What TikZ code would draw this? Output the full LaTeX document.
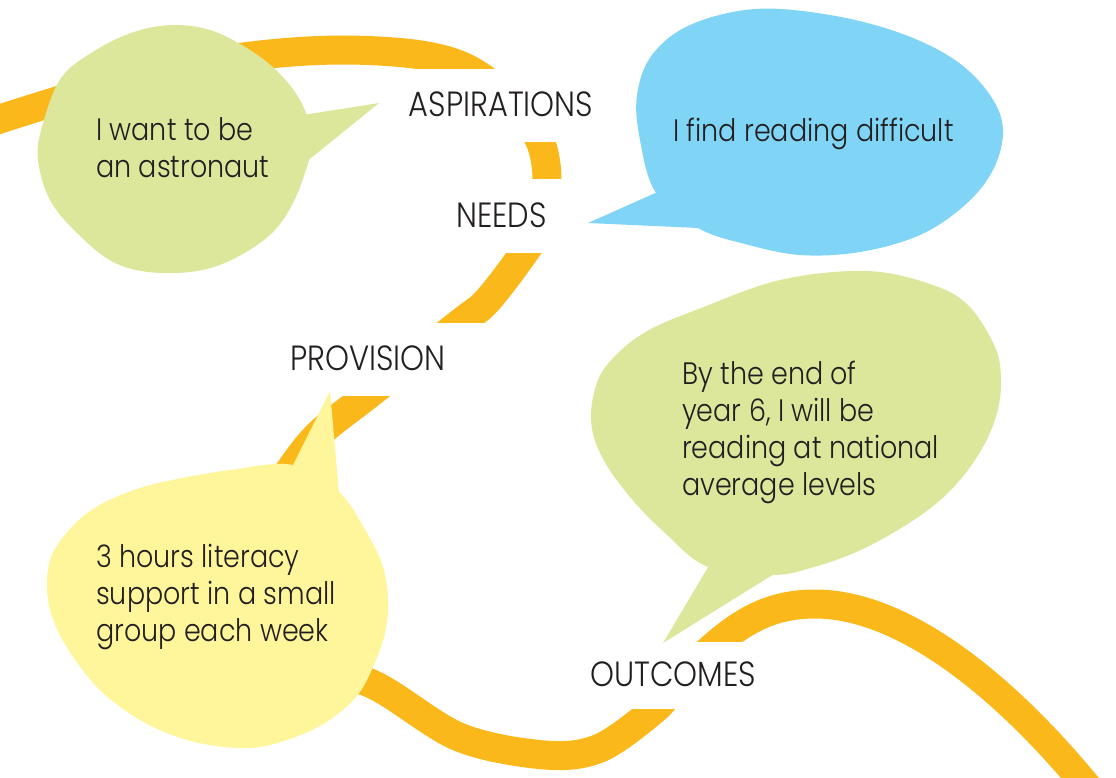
\documentclass[tikz,border=0pt]{standalone}
\usepackage{fontspec}
\setmainfont{Poppins}[UprightFont={* Light},FakeStretch=0.87]
\definecolor{bandcol}{RGB}{251,184,26}
\definecolor{greencol}{RGB}{221,231,156}
\definecolor{bluecol}{RGB}{128,213,246}
\definecolor{yellowcol}{RGB}{255,246,155}
\definecolor{ink}{RGB}{35,31,32}
\begin{document}
\begin{tikzpicture}[x=1pt,y=-1pt,
  band/.style={draw=bandcol, line width=29pt},
  labelbox/.style={fill=white, inner xsep=4pt, inner ysep=25pt, text height=23pt, text depth=0pt,
    font=\fontsize{35}{37}\selectfont, text=ink},
  bubbletext/.style={anchor=base west, align=left, inner sep=0pt,
    font=\fontsize{31}{37}\selectfont, text=ink}]
\useasboundingbox (0,0) rectangle (1116,778);
\clip (0,0) rectangle (1116,778);

% orange band (joints hidden under the OUTCOMES box)
\draw[band] plot[smooth, tension=0.55] coordinates {
 (-40,133) (0,119) (57,101) (150,72) (260,55) (344,50) (421,55) (470,70) (515,105)
 (540,141) (547,180) (540,225) (526,250) (488,300) (460,323) (368,395) (320,433)
 (290,470) (245,540) (245,610) (290,660) (372,684) (459,737) (545,755) (600,748)
 (655,709) (670,690)};
\draw[band] (670,690) .. controls (725,630) and (760,604) .. (815,604)
  .. controls (900,604) and (1000,680) .. (1090,790);

% labels with white boxes
\node[labelbox, minimum width=200pt] (asp) at (501,105.5) {ASPIRATIONS};
\node[labelbox, minimum width=130pt] (needs) at (501.5,216) {NEEDS};
\node[labelbox, minimum width=245pt] (prov) at (368,359) {PROVISION};
\node[labelbox, inner ysep=22pt, minimum width=180pt] (outc) at (673,675) {OUTCOMES};

% green bubble 1
\fill[greencol] plot[smooth cycle, tension=0.6] coordinates {
 (61,78) (96,50) (134,32) (172,25) (210,30) (245,47) (276,70) (300,100) (312,135)
 (309,160) (291,207) (264,240) (214,267) (161,273) (115,263) (77,233) (50,200) (38,160) (42,127)};
\fill[greencol] (290,117) -- (379,103) -- (290,175) -- cycle;

% blue bubble
\fill[bluecol] plot[smooth cycle, tension=0.6] coordinates {
 (656,193) (640,140) (637,95) (652,55) (690,25) (755,9) (830,15) (900,33) (955,60)
 (990,95) (1003,130) (993,170) (965,205) (920,235) (860,252) (800,255) (745,244) (698,228)};
\fill[bluecol] (588,223) -- (680,182) -- (720,229) -- cycle;

% yellow bubble
\fill[yellowcol] plot[smooth cycle, tension=0.6] coordinates {
 (339,492) (367,533) (383,567) (388,600) (385,633) (373,667) (356,697) (325,723) (287,740)
 (249,748) (199,743) (153,727) (115,703) (88,677) (61,637) (48,600) (50,560) (69,530)
 (96,507) (134,490) (172,480) (230,470) (293,465)};
\fill[yellowcol] (330,391) -- (283,485) -- (341,515) -- cycle;

% green bubble 2
\fill[greencol] plot[smooth cycle, tension=0.6] coordinates {
 (708,567) (665,533) (630,497) (602,457) (591,420) (598,380) (618,353) (649,330) (696,310)
 (780,280) (866,271) (930,284) (968,305) (995,347) (1001,380) (997,413) (983,447) (960,480)
 (932,507) (893,533) (854,553) (814,567) (773,575)};
\fill[greencol] (663,643) -- (720,547) -- (795,561) -- cycle;

% bubble texts (base = baseline of the last line)
\node[bubbletext] (astro) at (96,178) {I want to be\\an astronaut};
\node[bubbletext] (read) at (673,142) {I find reading difficult};
\node[bubbletext] (lit) at (96,641) {3 hours literacy\\support in a small\\group each week};
\node[bubbletext] (year) at (682,495) {By the end of\\year 6, I will be\\reading at national\\average levels};
\end{tikzpicture}
\end{document}
